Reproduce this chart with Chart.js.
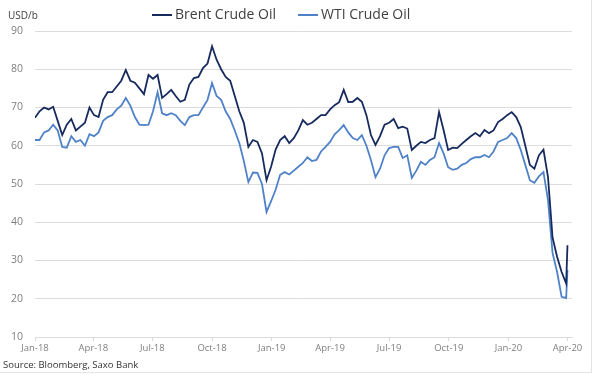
<!DOCTYPE html>
<html>
<head>
<meta charset="utf-8">
<script src="https://cdn.jsdelivr.net/npm/chart.js@4"></script>
<style>
    html, body { margin: 0; padding: 0; background: #fff; }
    #wrap { position: relative; width: 600px; height: 375px; font-family: "Open Sans", sans-serif; }
    #frame { position: absolute; left: 0; top: 0; width: 591px; height: 372px; border-right: 1px solid #e3e3e3; border-bottom: 1px solid #e3e3e3; }
    #unit { position: absolute; left: 8px; top: 8px; font-size: 10px; color: #404040; }
    #source { position: absolute; left: 3px; top: 358px; font-size: 9.5px; color: #333; }
    #legend { position: absolute; left: 152px; top: 4px; font-size: 14px; color: #404040; white-space: nowrap; }
    #legend span.item { display: inline-block; margin-right: 22px; }
    #legend i { display: inline-block; width: 20px; height: 2px; vertical-align: middle; margin-right: 3px; }
    canvas { position: absolute; left: 0; top: 0; }
</style>
</head>
<body>
<div id="wrap">
    <div id="frame"></div>
    <canvas id="oilChart" width="600" height="375"></canvas>
    <div id="unit">USD/b</div>
    <div id="legend"></div>
    <div id="source">Source: Bloomberg, Saxo Bank</div>
</div>
<script>
// Weekly closes, Jan 2018 - Apr 2020 (last point = 1 Apr 2020)
const brent = [67.3, 69, 70, 69.5, 70.2, 66.5, 62.8, 65.5, 67, 64,
    65, 66, 70, 68, 67.5, 72, 74, 74, 75.5, 77,
    79.8, 77, 76.5, 75, 73.5, 78.5, 77.5, 78.5, 72.5, 73.5,
    74.6, 73, 71.5, 72, 76, 77.7, 78, 80.3, 81.5, 86,
    82.5, 80, 78, 77, 73, 69, 66, 59.7, 61.5, 61,
    58, 51, 54.5, 59, 61.5, 62.5, 60.7, 62, 64, 66.7,
    65.5, 66, 67, 68, 68, 69.5, 70.6, 71.4, 74.6, 71.4,
    71.5, 72.5, 71.5, 68, 62.8, 60.2, 62.5, 65.5, 66, 67,
    64.6, 65, 64.5, 58.9, 60, 61, 60.7, 61.5, 62, 68.8,
    64.1, 58.9, 59.5, 59.4, 60.5, 61.5, 62.5, 63.3, 62.5, 64.1,
    63.3, 64, 66.2, 67, 68, 68.8, 67.5, 64.9, 60, 55,
    54, 57.5, 59, 51.8, 36, 31, 27, 24, 34];

const wti = [61.5, 61.5, 63.5, 64, 65.5, 64, 59.7, 59.5, 62.5, 61,
    61.5, 60, 63, 62.5, 63.5, 66.5, 67.5, 68, 69.5, 70.5,
    72.5, 70.5, 67.5, 65.5, 65.4, 65.5, 69, 74, 68.5, 68,
    68.5, 68, 66.5, 65.4, 67.5, 68, 68, 70, 72, 76.4,
    73, 72, 69, 67, 64, 60.7, 56, 50.5, 53, 52.9,
    50, 42.7, 45.5, 48.5, 52.4, 53.1, 52.5, 53.5, 54.5, 55.5,
    57, 56, 56.3, 58.5, 59.7, 61, 63, 64.1, 65.4, 63.5,
    62, 61.5, 62.8, 60, 56.3, 51.8, 54, 57.5, 59.4, 59.7,
    59.7, 56.8, 57.5, 51.6, 53.5, 55.8, 55, 56.3, 57, 60.7,
    58, 54.4, 53.7, 54, 55, 55.5, 56.5, 57, 57, 57.6,
    57, 58.5, 61, 61.5, 62, 63.3, 62, 58.9, 55, 51,
    50.3, 52, 53.1, 45.8, 32, 27, 20.5, 20.2, 27.5];

// days since 1 Jan 2018
const days = brent.map((_, i) => i < brent.length - 1 ? i * 7 : 821);

const tickDays = [0, 90, 181, 273, 365, 455, 546, 638, 730, 821];
const tickLabels = ['Jan-18', 'Apr-18', 'Jul-18', 'Oct-18', 'Jan-19', 'Apr-19', 'Jul-19', 'Oct-19', 'Jan-20', 'Apr-20'];
const yTicks = [10, 20, 30, 40, 50, 60, 70, 80, 90];

const seriesNames = ['Brent Crude Oil', 'WTI Crude Oil'];
const seriesColors = ['#172a5e', '#4f82c8'];

const gridColor = '#dcdcdc';
const tickColor = '#7f7f7f';

// HTML legend
const legendEl = document.getElementById('legend');
seriesNames.forEach(function (name, i) {
    const item = document.createElement('span');
    item.className = 'item';
    item.innerHTML = '<i style="background:' + seriesColors[i] + '"></i>' + name;
    legendEl.appendChild(item);
});

const ctx = document.getElementById('oilChart').getContext('2d');
const oilChart = new Chart(ctx, {
    type: 'line',
    data: {
        datasets: [{
            label: seriesNames[0],
            data: days.map((d, i) => ({ x: d, y: brent[i] })),
            borderColor: seriesColors[0],
            borderWidth: 1.8,
            pointRadius: 0,
            tension: 0
        }, {
            label: seriesNames[1],
            data: days.map((d, i) => ({ x: d, y: wti[i] })),
            borderColor: seriesColors[1],
            borderWidth: 1.8,
            pointRadius: 0,
            tension: 0
        }]
    },
    options: {
        responsive: false,
        animation: false,
        layout: {
            padding: { top: 31, right: 28, bottom: 0, left: 0 }
        },
        plugins: {
            legend: { display: false },
            tooltip: { enabled: false }
        },
        scales: {
            x: {
                type: 'linear',
                min: 0,
                max: 828,
                afterBuildTicks: function (scale) {
                    scale.ticks = tickDays.map(v => ({ value: v }));
                },
                afterFit: function (scale) {
                    scale.height = 38;
                },
                ticks: {
                    autoSkip: false,
                    maxRotation: 0,
                    padding: 2,
                    color: tickColor,
                    font: { family: 'Open Sans', size: 9.5 },
                    callback: function (value) {
                        const idx = tickDays.indexOf(value);
                        return idx >= 0 ? tickLabels[idx] : '';
                    }
                },
                grid: {
                    drawOnChartArea: false,
                    drawTicks: true,
                    tickLength: 4,
                    color: gridColor
                },
                border: { display: true, color: gridColor }
            },
            y: {
                min: 10,
                max: 90,
                afterBuildTicks: function (scale) {
                    scale.ticks = yTicks.map(v => ({ value: v }));
                },
                afterFit: function (scale) {
                    scale.width = 35;
                },
                ticks: {
                    padding: 12,
                    color: tickColor,
                    font: { family: 'Open Sans', size: 10.5 }
                },
                grid: {
                    color: gridColor,
                    drawTicks: false
                },
                border: { display: false }
            }
        }
    }
});
</script>
</body>
</html>
